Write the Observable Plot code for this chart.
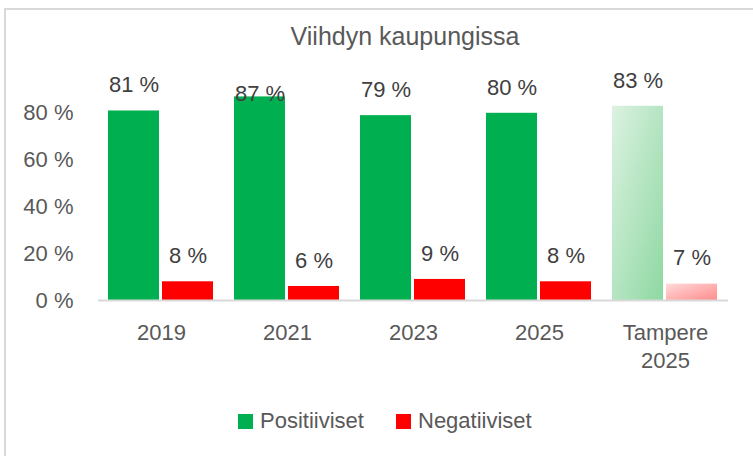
<!DOCTYPE html>
<html>
<head>
<meta charset="utf-8">
<script src="https://cdn.jsdelivr.net/npm/d3@7"></script>
<script src="https://cdn.jsdelivr.net/npm/@observablehq/plot@0.6"></script>
<style>
  html, body { margin: 0; padding: 0; background: #fff; }
  body { width: 753px; height: 456px; position: relative; overflow: hidden; font-family: "Liberation Sans", Arial, sans-serif; }
  #frame { position: absolute; left: 4px; top: 8px; width: 780px; height: 480px; border: 2px solid #d9d9d9; box-sizing: border-box; }
  #title { position: absolute; left: 0; top: 22px; width: 810px; text-align: center; font-size: 25px; color: #595959; }
  #chart { position: absolute; left: 0; top: 60px; }
  .leg { position: absolute; top: 408px; font-size: 22px; color: #595959; display: flex; align-items: center; }
  .sw { width: 15px; height: 15px; margin-right: 7px; display: inline-block; }
</style>
</head>
<body>
<div id="frame"></div>
<div id="title">Viihdyn kaupungissa</div>
<div id="chart"></div>
<div class="leg" style="left:238px"><span class="sw" style="background:#00b050"></span>Positiiviset</div>
<div class="leg" style="left:396px"><span class="sw" style="background:#ff0000"></span>Negatiiviset</div>
<script>
const groups = ["2019", "2021", "2023", "2025", "Tampere 2025"];
const positive = [81, 87, 79, 80, 83];
const negative = [8, 6, 9, 8, 7];
const seriesNames = ["Positiiviset", "Negatiiviset"];
const yTicks = [0, 20, 40, 60, 80];
const benchmarkGroup = "Tampere 2025";

const rows = [];
groups.forEach((g, i) => {
  rows.push({group: g, series: seriesNames[0], value: positive[i]});
  rows.push({group: g, series: seriesNames[1], value: negative[i]});
});
rows.forEach(r => {
  const bench = r.group === benchmarkGroup;
  r.key = (r.series === seriesNames[0] ? "P" : "N") + (bench ? "T" : "");
  // Excel-style label placement: above the bar, or inside end if it would not fit
  r.labelPos = r.value + 11 > 95 ? r.value + 1.3 : r.value + 11;
});

const pct = d => d + " %";

const chart = Plot.plot({
  width: 753,
  height: 330,
  marginTop: 6,
  marginBottom: 90,
  marginLeft: 98,
  marginRight: 25,
  style: {fontSize: "22px", fontFamily: "Liberation Sans, Arial, sans-serif", color: "#595959", background: "transparent"},
  fx: {domain: groups, padding: 0, axis: null, label: null},
  x: {domain: seriesNames, paddingInner: 0.055, paddingOuter: 0.173, axis: null},
  y: {domain: [0, 100], ticks: yTicks, tickFormat: pct, tickSize: 0, tickPadding: 25, label: null},
  color: {domain: ["P", "N", "PT", "NT"], range: ["#00b050", "#ff0000", "url(#gradG)", "url(#gradR)"]},
  marks: [
    Plot.barY(rows, {fx: "group", x: "series", y: "value", fill: "key", stroke: "none"}),
    Plot.ruleY([0], {stroke: "#d9d9d9", strokeWidth: 2}),
    Plot.text(rows, {fx: "group", x: "series", y: "labelPos", text: d => pct(d.value), fill: "#404040", fontSize: 22}),
    Plot.text(groups, {fx: d => d, text: d => d.replace(" ", "\n"), frameAnchor: "bottom", lineAnchor: "top", dy: 20, lineHeight: 1.27, fill: "#595959", fontSize: 22})
  ]
});

const defs = d3.select(chart).insert("defs", ":first-child");
const gG = defs.append("linearGradient").attr("id", "gradG").attr("x1", 0).attr("y1", 0).attr("x2", 1).attr("y2", 1);
gG.append("stop").attr("offset", "0%").attr("stop-color", "#dcf2e1");
gG.append("stop").attr("offset", "100%").attr("stop-color", "#8ed8a2");
const gR = defs.append("linearGradient").attr("id", "gradR").attr("x1", 0).attr("y1", 0).attr("x2", 1).attr("y2", 1);
gR.append("stop").attr("offset", "0%").attr("stop-color", "#ffdada");
gR.append("stop").attr("offset", "100%").attr("stop-color", "#ff8c8c");

document.getElementById("chart").appendChild(chart);
</script>
</body>
</html>
